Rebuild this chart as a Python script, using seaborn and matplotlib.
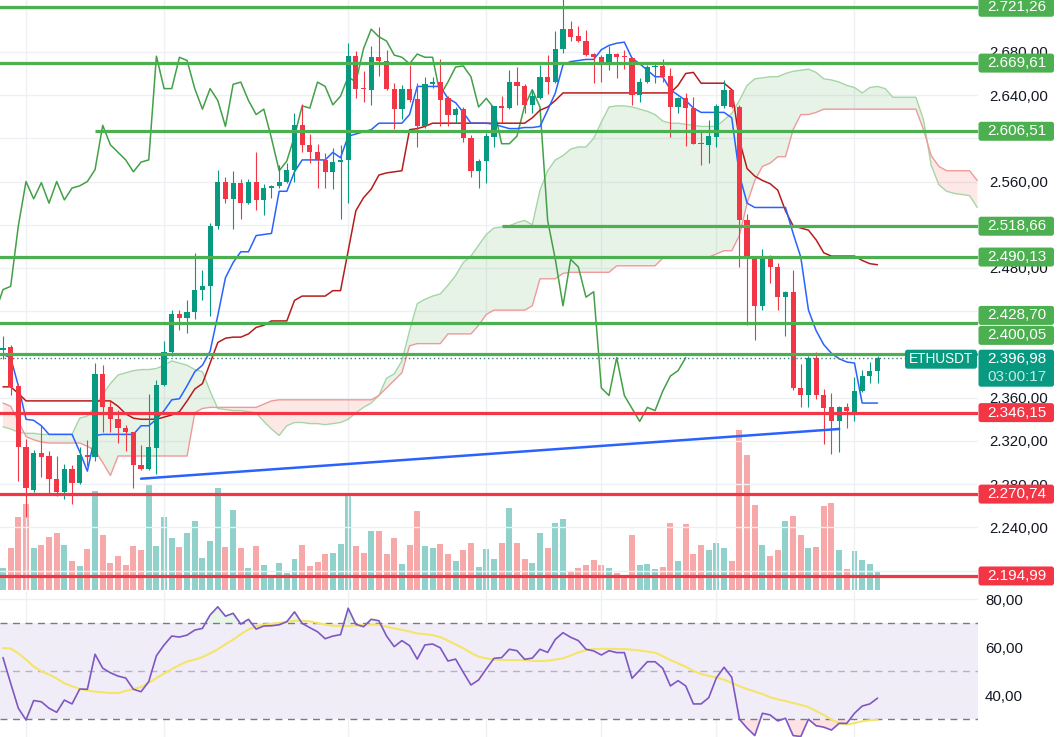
import numpy as np
import matplotlib
matplotlib.use("Agg")
import matplotlib.pyplot as plt
from matplotlib.patches import FancyBboxPatch
from matplotlib.transforms import IdentityTransform
from matplotlib.ticker import FuncFormatter
import seaborn as sns

# -----------------------
# DATA (ETHUSDT candles)
# -----------------------
opens = [2404, 2407, 2371, 2314, 2275, 2309, 2306, 2285, 2273, 2294,
         2281, 2307, 2305, 2382, 2351, 2340, 2332, 2328, 2298, 2294,
         2313, 2372, 2402, 2437, 2434, 2439, 2460, 2463, 2519, 2560,
         2544, 2559, 2540, 2560, 2543, 2554, 2556, 2560, 2571, 2612,
         2594, 2587, 2580, 2569, 2578, 2580, 2676, 2647, 2645, 2675,
         2672, 2646, 2627, 2646, 2636, 2611, 2650, 2652, 2637, 2622,
         2627, 2600, 2570, 2579, 2601, 2630, 2628, 2652, 2648, 2631,
         2637, 2657, 2652, 2683, 2701, 2695, 2690, 2678, 2675, 2669,
         2678, 2676, 2674, 2640, 2652, 2666, 2667, 2658, 2629, 2637,
         2628, 2595.5, 2594, 2601, 2630, 2645, 2629, 2524, 2488, 2445,
         2488, 2481, 2453, 2458, 2369, 2362, 2397, 2362, 2351, 2338,
         2351, 2347, 2366, 2380, 2385]
highs = [2417, 2409, 2373, 2322, 2312, 2334, 2311, 2306, 2299, 2298,
         2314, 2321, 2392, 2390, 2357, 2349, 2335, 2328, 2316, 2363,
         2376, 2412, 2441, 2441, 2450, 2494, 2478, 2522, 2571, 2564,
         2570, 2562, 2562, 2587, 2558, 2557, 2575, 2577, 2623, 2632,
         2604, 2595, 2586, 2591, 2594, 2688, 2681, 2662, 2685, 2703,
         2682, 2651, 2649, 2668, 2651, 2657, 2657, 2673, 2639, 2629,
         2629, 2603, 2581, 2605, 2630, 2639, 2663, 2666, 2650, 2645,
         2668, 2677, 2699, 2730, 2709, 2704, 2700, 2679, 2677, 2685,
         2679, 2682, 2675, 2656, 2668, 2671, 2673, 2665, 2638, 2642,
         2638, 2608, 2617, 2632, 2654, 2646, 2631, 2530, 2488, 2498,
         2492, 2485, 2459, 2478, 2391, 2399, 2402, 2368, 2364, 2352,
         2355, 2379, 2386, 2393, 2399]
lows = [2396, 2362, 2283, 2250, 2273, 2287, 2271, 2269, 2266, 2262,
        2280, 2297, 2301, 2328, 2328, 2318, 2311, 2276, 2293, 2293,
        2289, 2371, 2399, 2423, 2420, 2433, 2450, 2436, 2516, 2540,
        2516, 2525, 2539, 2534, 2529, 2545, 2554, 2559, 2560, 2587,
        2577, 2554, 2554, 2553, 2525, 2540, 2637, 2634, 2631, 2658,
        2645, 2609, 2618, 2634, 2592, 2610, 2647, 2611, 2611, 2614,
        2597, 2564, 2554, 2559, 2592, 2614, 2627, 2631, 2623, 2623,
        2636, 2641, 2651, 2679, 2690, 2689, 2676, 2651, 2652, 2663,
        2656, 2664, 2631, 2634, 2651, 2651, 2652, 2601, 2623, 2593,
        2595, 2575, 2577, 2592, 2628, 2628, 2481, 2427, 2413, 2441,
        2466, 2441, 2417, 2367, 2351, 2351, 2359, 2317, 2308, 2310,
        2332, 2338, 2365, 2374, 2374]
closes = [2406, 2370, 2314, 2276, 2309, 2305, 2285, 2273, 2294, 2281,
          2307, 2305, 2382, 2351, 2340, 2332, 2328, 2298, 2294, 2314,
          2372, 2402, 2437, 2434, 2439, 2460, 2463, 2519, 2560, 2544,
          2559, 2540, 2560, 2543, 2554, 2556, 2560, 2571, 2612, 2594,
          2587, 2580, 2569, 2578, 2580, 2676, 2646, 2646, 2675, 2672,
          2646, 2627, 2646, 2635, 2611, 2650, 2652, 2635, 2622, 2627,
          2600, 2570, 2579, 2602, 2630, 2628, 2652, 2648, 2631, 2639,
          2657, 2652, 2683, 2701, 2694, 2690, 2677, 2675, 2669, 2678,
          2675, 2675, 2640, 2652, 2666, 2667, 2657, 2629, 2637, 2628,
          2595, 2595, 2602, 2630, 2645, 2629, 2524, 2488, 2445, 2488,
          2481, 2453, 2458, 2369, 2362, 2397, 2362, 2350, 2338, 2351,
          2348, 2366, 2380, 2385, 2397]
volume = [21.7, 42.3, 73.3, 86, 42.3, 45, 52.7, 56.7, 45, 29,
          24, 41.3, 99, 55, 26.7, 34, 25, 44, 40, 105.7,
          44, 73.3, 52, 42.7, 57.3, 69.3, 32.3, 49.3, 101.7, 42.7,
          80, 41.7, 22.3, 44, 25, 15, 26.7, 17.3, 31, 45,
          24, 28.3, 36, 36.7, 46, 97.3, 44, 36.7, 59, 59,
          36, 52, 26, 45, 79.3, 44, 42.3, 46, 36, 29,
          40, 47.3, 23.3, 41.3, 31, 47.3, 82, 47.3, 31, 27.3,
          57.3, 42.3, 67.3, 71, 18.3, 22.3, 25, 30, 25, 22.3,
          17.3, 12.7, 55, 25, 26, 21.3, 23.3, 67.3, 29, 66,
          36, 45, 40, 47.3, 41.7, 29, 160, 135, 85, 45,
          34, 40, 69, 74, 55, 42.3, 42.7, 84, 87.3, 40,
          21.3, 39.3, 30, 26, 19.3]

# Ichimoku lines
tenkan = [2400, 2397, 2371, 2340, 2339, 2334, 2326, 2326, 2326, 2326,
          2310, 2292, 2325, 2326, 2326, 2326, 2326, 2326, 2334, 2334,
          2340, 2348, 2358, 2359, 2371, 2384, 2390, 2403, 2436, 2471,
          2485, 2495, 2495, 2510, 2511, 2512, 2551, 2551, 2569, 2580,
          2580, 2580, 2580, 2587, 2582, 2602, 2604, 2606, 2608, 2614,
          2614, 2614, 2614, 2622, 2648, 2648, 2648, 2648, 2637, 2633,
          2624, 2614, 2614, 2614, 2613, 2611, 2609, 2609, 2610, 2610,
          2611, 2626, 2642, 2668, 2671, 2672, 2673, 2673, 2682, 2686,
          2688, 2689, 2674, 2669, 2663, 2657, 2657, 2645, 2640, 2635,
          2628, 2624, 2624, 2624, 2624, 2619, 2566, 2540, 2536, 2536,
          2536, 2536, 2536, 2512, 2490, 2441, 2422, 2409, 2401, 2396,
          2393, 2392, 2355, 2355, 2355]
kijun = [2370, 2370, 2364, 2357, 2357, 2357, 2357, 2357, 2357, 2357,
         2357, 2357, 2357, 2357, 2357, 2352, 2345, 2341, 2340, 2340,
         2340, 2342, 2344, 2347, 2357, 2368, 2373, 2392, 2411, 2415,
         2416, 2416, 2419, 2425, 2427, 2431, 2431, 2431, 2450, 2454,
         2454, 2454, 2454, 2459, 2459, 2496, 2533, 2545, 2553, 2566,
         2568, 2569, 2570, 2608, 2609, 2611, 2614, 2614, 2614, 2614,
         2614, 2614, 2614, 2614, 2614, 2614, 2614, 2614, 2614, 2619,
         2626, 2629, 2635, 2642, 2642, 2642, 2642, 2642, 2642, 2642,
         2642, 2642, 2642, 2642, 2642, 2642, 2642, 2642, 2649, 2660,
         2661, 2651, 2651, 2651, 2651, 2645, 2598, 2572, 2565, 2561,
         2558, 2552, 2533, 2519, 2517, 2515, 2506, 2494, 2491, 2491,
         2491, 2491, 2487, 2484, 2483]
senkou_a = [2333, 2331, 2328, 2327, 2327, 2326, 2326, 2326, 2326, 2326,
            2341, 2343, 2352, 2363, 2373, 2381, 2383, 2385, 2386, 2386,
            2387, 2390, 2394, 2392, 2390, 2386, 2384, 2366, 2350, 2349,
            2348, 2348, 2347, 2346, 2338, 2331, 2325, 2334, 2337, 2337,
            2336, 2336, 2335, 2336, 2337, 2340, 2346, 2351, 2355, 2362,
            2378, 2382, 2394, 2422, 2447, 2451, 2454, 2456, 2464, 2473,
            2485, 2491, 2501, 2511, 2517, 2518, 2519, 2522, 2524, 2520,
            2552, 2570, 2580, 2584, 2590, 2592, 2592, 2600, 2615, 2629,
            2630, 2630, 2629, 2627, 2625, 2622, 2616, 2614, 2614, 2613,
            2612, 2611, 2611, 2611, 2617, 2623, 2635, 2649, 2655, 2656,
            2657, 2657, 2660, 2662, 2663, 2664, 2661, 2655, 2654, 2652,
            2649, 2647, 2642, 2647, 2648, 2646, 2638, 2638, 2638, 2638,
            2617, 2575, 2557, 2551, 2549, 2548, 2547, 2536]
senkou_b = [2355, 2352, 2338, 2324, 2321, 2319, 2318, 2318, 2318, 2318,
            2318, 2315, 2311, 2300, 2288, 2306, 2306, 2306, 2306, 2306,
            2306, 2306, 2306, 2306, 2306, 2346, 2350, 2351, 2351, 2351,
            2351, 2351, 2351, 2351, 2354, 2357, 2358, 2358, 2358, 2358,
            2358, 2358, 2358, 2358, 2358, 2358, 2358, 2358, 2358, 2362,
            2369, 2376, 2383, 2408, 2410, 2410, 2410, 2410, 2419, 2419,
            2419, 2419, 2427, 2437, 2441, 2441, 2441, 2441, 2441, 2445,
            2470, 2470, 2470, 2475, 2476, 2476, 2476, 2476, 2476, 2476,
            2482, 2482, 2482, 2482, 2482, 2482, 2489, 2489, 2489, 2489,
            2489, 2489, 2490, 2493, 2496, 2496, 2510, 2540, 2561, 2574,
            2577, 2583, 2583, 2608, 2622, 2622, 2624, 2627, 2627, 2627,
            2627, 2627, 2627, 2627, 2627, 2627, 2627, 2627, 2627, 2627,
            2608, 2584, 2574, 2570, 2570, 2570, 2570, 2561]
lag_shift = 25

# RSI and its moving average
rsi = [55.7, 45.0, 34.6, 29.7, 37.8, 37.3, 34.6, 32.9, 38.0, 36.4,
       42.6, 42.5, 57.1, 51.3, 49.4, 48.0, 47.2, 42.5, 41.5, 45.7,
       56.5, 61.0, 64.7, 64.3, 65.1, 67.2, 67.9, 73.5, 76.9, 73.0,
       74.2, 69.7, 71.7, 67.6, 68.9, 69.0, 69.4, 70.7, 74.8, 70.0,
       68.2, 66.5, 63.6, 64.7, 65.3, 76.3, 69.6, 68.6, 71.7, 71.1,
       64.7, 60.3, 62.8, 60.7, 55.1, 61.0, 61.4, 59.8, 54.3, 55.1,
       49.6, 44.3, 46.4, 51.0, 55.4, 55.7, 59.2, 58.6, 55.0, 55.5,
       59.2, 57.9, 63.3, 66.1, 64.2, 62.8, 59.2, 58.5, 56.8, 58.6,
       57.8, 57.8, 47.1, 50.5, 54.0, 54.0, 51.3, 43.9, 46.1, 43.9,
       36.4, 36.4, 39.0, 47.3, 51.7, 47.5, 30.0, 26.3, 23.2, 32.5,
       31.8, 29.3, 30.4, 23.2, 22.8, 30.0, 27.3, 26.7, 25.5, 28.3,
       28.3, 32.5, 35.5, 36.4, 38.8]
rsi_ma = [59.7, 59.5, 57.5, 54.9, 52.0, 50.0, 48.7, 47.0, 45.0, 43.8,
          42.7, 42.0, 41.5, 41.2, 41.0, 40.9, 41.8, 42.6, 43.4, 45.2,
          47.2, 49.1, 50.9, 52.6, 54.1, 54.9, 55.9, 57.5, 59.2, 61.3,
          63.2, 65.5, 67.5, 68.7, 69.5, 69.8, 70.2, 70.6, 71.1, 71.1,
          70.8, 70.2, 69.5, 69.0, 68.9, 68.9, 69.1, 69.3, 69.5, 69.4,
          68.6, 67.9, 67.3, 66.6, 65.8, 65.5, 65.1, 64.3, 62.8, 61.2,
          59.6, 57.7, 56.1, 55.4, 54.9, 54.7, 54.7, 54.7, 54.6, 54.4,
          54.3, 54.4, 54.9, 55.4, 56.6, 57.9, 58.8, 59.3, 59.4, 59.4,
          59.3, 59.3, 59.0, 58.7, 58.2, 57.8, 56.3, 54.7, 53.3, 51.9,
          50.2, 48.9, 48.1, 47.4, 46.5, 45.2, 43.8, 42.6, 41.6, 40.5,
          39.2, 38.3, 37.6, 36.8, 36.0, 35.1, 33.4, 31.8, 29.9, 28.3,
          27.8, 28.4, 29.2, 29.6, 29.8]

# support / resistance levels
green_levels = [2721.26, 2669.61, 2606.51, 2518.66, 2490.13, 2428.70, 2400.05]
green_start = [-1, -1, 12, 65, -1, -1, -1]
green_tag_shift = [0, 0, 0, 0, 0, 8, 19]  # px, labels pushed up where they collide
red_levels = [2346.15, 2270.74, 2194.99]
trend_x = [18, 109]
trend_y = [2285, 2331]
last_price = 2396.98
countdown = "03:00:17"
symbol = "ETHUSDT"
grid_x = [3, 21, 45, 63, 78, 93, 111]
price_grid = np.arange(2200, 2721, 40)
# scale labels that are not hidden behind a level tag
price_labels = [2240, 2280, 2320, 2360, 2440, 2480, 2560, 2640, 2680]

# -----------------------
# STYLE
# -----------------------
sns.set_theme(style="white")
plt.rcParams["font.family"] = ["Liberation Sans", "DejaVu Sans"]

UP, DOWN = "#089981", "#F23645"
VOL_UP, VOL_DN = "#90D2CB", "#F7A9A9"
GREEN = "#4CAF50"
GRID = "#EEF0F4"
TXT = "#131722"

W, H = 1058, 737
fig = plt.figure(figsize=(W / 100, H / 100), dpi=100)
fig.patch.set_facecolor("white")
ax = fig.add_axes([0, 147 / H, 978 / W, 590 / H])
ax_rsi = fig.add_axes([0, 0, 978 / W, 146 / H])
ax_vol = ax.twinx()
ax_vol.set_zorder(ax.get_zorder() - 1)
ax.patch.set_visible(False)

XMIN, XMAX = -0.39, 127.1


def fmt_price(v, pos=None):
    s = f"{v:,.2f}"
    return s.replace(",", "X").replace(".", ",").replace("X", ".")


# -----------------------
# PRICE PANE
# -----------------------
x = np.arange(len(opens))
o, h, l, c = map(np.array, (opens, highs, lows, closes))
up = c >= o

# volume overlay
ax_vol.bar(x, volume, width=0.78, color=np.where(up, VOL_UP, VOL_DN), linewidth=0)
ax_vol.set_ylim(0, 590)
ax_vol.set_yticks([])
for s in ax_vol.spines.values():
    s.set_visible(False)

# ichimoku cloud
sx = np.arange(len(senkou_a))
sa, sb = np.array(senkou_a), np.array(senkou_b)
ax.fill_between(sx, sa, sb, where=sa >= sb, interpolate=True, color="#43A047", alpha=0.12, lw=0, zorder=1)
ax.fill_between(sx, sa, sb, where=sa < sb, interpolate=True, color="#F44336", alpha=0.12, lw=0, zorder=1)
sns.lineplot(x=sx, y=sa, ax=ax, color="#A5D6A7", linewidth=1, zorder=1.2)
sns.lineplot(x=sx, y=sb, ax=ax, color="#EF9A9A", linewidth=1, zorder=1.2)

# lagging span = closes shifted back
sns.lineplot(x=x[lag_shift - 1:] - lag_shift, y=c[lag_shift - 1:], ax=ax, color="#43A047", linewidth=1.1, zorder=1.5)
sns.lineplot(x=x, y=kijun, ax=ax, color="#B71C1C", linewidth=1.1, zorder=1.6)
sns.lineplot(x=x, y=tenkan, ax=ax, color="#2962FF", linewidth=1.1, zorder=1.6)

# candles
cols = np.where(up, UP, DOWN)
ax.vlines(x, l, h, colors=cols, linewidth=0.8, zorder=2)
ax.bar(x, np.maximum(np.abs(c - o), 0.9), bottom=np.minimum(o, c), width=0.68,
       color=cols, linewidth=0, zorder=2.1)

# levels
for lv, st in zip(green_levels, green_start):
    ax.hlines(lv, st, XMAX + 5, color=GREEN, linewidth=2.3, zorder=4)
for lv in red_levels:
    ax.hlines(lv, -1, XMAX + 5, color=DOWN, linewidth=2.3, zorder=4)
sns.lineplot(x=trend_x, y=trend_y, ax=ax, color="#2962FF", linewidth=1.8, zorder=4)
ax.axhline(last_price, color="#3B7F6E", linewidth=1, linestyle=(0, (1, 2)), zorder=4)

ax.set_xlim(XMIN, XMAX)
ax.set_ylim(2182, 2728)
ax.yaxis.tick_right()
ax.set_yticks(price_labels)
ax.set_yticks(price_grid, minor=True)
ax.yaxis.set_major_formatter(FuncFormatter(fmt_price))
ax.set_xticks(grid_x)
ax.set_xticklabels([])
ax.tick_params(axis="both", which="both", length=0)
ax.tick_params(axis="y", pad=8, labelsize=10.8, labelcolor=TXT)
ax.grid(True, which="both", color=GRID, linewidth=1)
ax.set_xlabel("")
ax.set_ylabel("")
for s in ax.spines.values():
    s.set_visible(False)

# -----------------------
# RSI PANE
# -----------------------
xr = np.arange(len(rsi))
r = np.array(rsi)
ax_rsi.axhspan(30, 70, color="#7E57C2", alpha=0.1, lw=0, zorder=0.5)
ax_rsi.fill_between(xr, r, 70, where=r > 70, interpolate=True, color="#4CAF50", alpha=0.12, lw=0)
ax_rsi.fill_between(xr, r, 30, where=r < 30, interpolate=True, color="#F23645", alpha=0.15, lw=0)
ax_rsi.axhline(70, color="#787B86", linewidth=1, linestyle=(0, (5, 4)))
ax_rsi.axhline(50, color="#787B86", alpha=0.5, linewidth=1, linestyle=(0, (5, 4)))
ax_rsi.axhline(30, color="#787B86", linewidth=1, linestyle=(0, (5, 4)))
sns.lineplot(x=xr, y=rsi_ma, ax=ax_rsi, color="#F5E46A", linewidth=1.5, zorder=3)
sns.lineplot(x=xr, y=rsi, ax=ax_rsi, color="#7E57C2", linewidth=1.2, zorder=3.1)

ax_rsi.set_xlim(XMIN, XMAX)
ax_rsi.set_ylim(22.6, 83.5)
ax_rsi.yaxis.tick_right()
ax_rsi.set_yticks([40, 60, 80])
ax_rsi.yaxis.set_major_formatter(FuncFormatter(lambda v, p: f"{v:.2f}".replace(".", ",")))
ax_rsi.set_xticks(grid_x)
ax_rsi.set_xticklabels([])
ax_rsi.tick_params(axis="both", length=0)
ax_rsi.tick_params(axis="y", pad=5, labelsize=10.8, labelcolor=TXT)
ax_rsi.grid(True, color=GRID, linewidth=1)
ax_rsi.set_xlabel("")
ax_rsi.set_ylabel("")
for s in ax_rsi.spines.values():
    s.set_visible(False)


# -----------------------
# PRICE-SCALE TAGS
# -----------------------
def box(x0, y0, w, hgt, color):
    fig.add_artist(FancyBboxPatch((x0, y0), w, hgt, boxstyle="round,pad=0,rounding_size=2.5",
                                  transform=IdentityTransform(), fc=color, ec="none", zorder=10))


def label(xc, yc, text, color="white", size=11):
    fig.text(xc / W, yc / H, text, ha="center", va="center", color=color,
             fontsize=size, zorder=11)


def tag(price, color, dy=0):
    yd = ax.transData.transform((0, price))[1] + dy
    box(978.5, yd - 9.5, 75.5, 19, color)
    label(1017, yd, fmt_price(price))


for lv, dy in zip(green_levels, green_tag_shift):
    tag(lv, GREEN, dy)
for lv in red_levels:
    tag(lv, DOWN)

yp = ax.transData.transform((0, last_price))[1]
box(905, yp - 11, 72, 19, UP)
label(941, yp - 1.5, symbol, size=9.8)
box(978.5, yp - 29, 75.5, 37, UP)
label(1017, yp - 1, fmt_price(last_price))
label(1017, yp - 19, countdown, color="#C3EAE3")

fig.savefig("out.png", dpi=100, facecolor="white")
